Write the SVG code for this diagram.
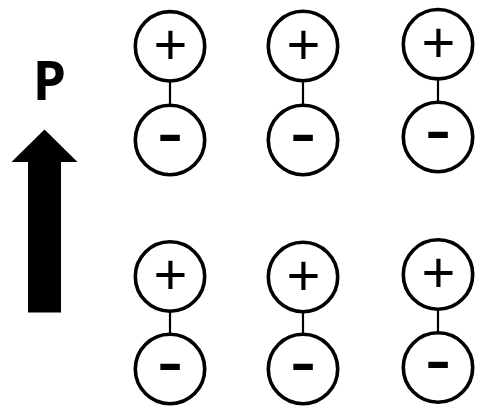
<svg xmlns="http://www.w3.org/2000/svg" width="478" height="407" viewBox="0 0 478 407">
  <style>
    .ring { fill: #fff; stroke: #000; stroke-width: 3.6; }
    .link { stroke: #000; stroke-width: 2.2; }
    .plus { font-family: "Liberation Sans", Arial, sans-serif; font-size: 58px; text-anchor: middle; fill: #000; }
    .minus { font-family: "Liberation Sans", Arial, sans-serif; font-size: 80px; text-anchor: middle; fill: #000; }
    .label { font-family: "Open Sans", "Noto Sans", sans-serif; font-weight: 700; font-size: 53px; text-anchor: middle; fill: #000; }
  </style>

  <!-- polarization arrow and its label -->
  <g id="polarization">
    <text class="label" x="49.5" y="100">P</text>
    <polygon points="44.5,129.5 77.5,162 61,162 61,312.5 28,312.5 28,162 11.5,162" fill="#000"/>
  </g>

  <!-- dipole links -->
  <g id="connectors">
    <line class="link" x1="170" y1="81" x2="170" y2="105"/>
    <line class="link" x1="303" y1="81" x2="303" y2="105"/>
    <line class="link" x1="438" y1="79" x2="438" y2="102"/>
    <line class="link" x1="170" y1="311" x2="170" y2="334"/>
    <line class="link" x1="303" y1="311" x2="303" y2="334"/>
    <line class="link" x1="438" y1="309" x2="438" y2="333"/>
  </g>

  <!-- top row -->
  <g id="pos-1"><circle class="ring" cx="170" cy="46.3" r="34.7"/><text class="plus" x="170.5" y="63.7">+</text></g>
  <g id="neg-1"><circle class="ring" cx="170" cy="140" r="34.7"/><text class="minus" x="170" y="158.5">-</text></g>
  <g id="pos-2"><circle class="ring" cx="303" cy="46" r="34.7"/><text class="plus" x="303.5" y="63.5">+</text></g>
  <g id="neg-2"><circle class="ring" cx="303" cy="140" r="34.7"/><text class="minus" x="303" y="158.5">-</text></g>
  <g id="pos-3"><circle class="ring" cx="438" cy="44.2" r="34.7"/><text class="plus" x="438.5" y="61.8">+</text></g>
  <g id="neg-3"><circle class="ring" cx="438" cy="137" r="34.7"/><text class="minus" x="438" y="155.5">-</text></g>

  <!-- bottom row -->
  <g id="pos-4"><circle class="ring" cx="170" cy="276.5" r="34.7"/><text class="plus" x="170.5" y="294">+</text></g>
  <g id="neg-4"><circle class="ring" cx="170" cy="369" r="34.7"/><text class="minus" x="170" y="387.5">-</text></g>
  <g id="pos-5"><circle class="ring" cx="303" cy="277" r="34.7"/><text class="plus" x="303.5" y="294.5">+</text></g>
  <g id="neg-5"><circle class="ring" cx="303" cy="369" r="34.7"/><text class="minus" x="303" y="387.5">-</text></g>
  <g id="pos-6"><circle class="ring" cx="438" cy="274.5" r="34.7"/><text class="plus" x="438.5" y="292">+</text></g>
  <g id="neg-6"><circle class="ring" cx="438" cy="367.5" r="34.7"/><text class="minus" x="438" y="386">-</text></g>
</svg>
